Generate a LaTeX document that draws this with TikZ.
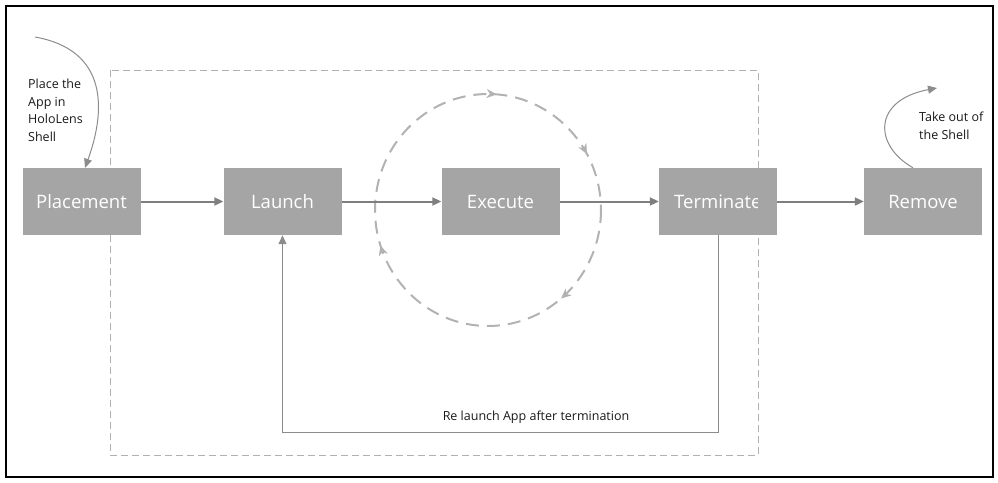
\documentclass[tikz,border=0pt]{standalone}
\usepackage{fontspec}
\setmainfont{Open Sans}
\usetikzlibrary{arrows.meta,decorations.markings}
\definecolor{boxgray}{HTML}{A5A5A5}
\definecolor{arrgray}{HTML}{7F7F7F}
\definecolor{linegray}{HTML}{8C8C8C}
\definecolor{dashgray}{HTML}{B0B0B0}
\definecolor{circgray}{HTML}{B2B2B2}

\begin{document}
\begin{tikzpicture}[x=1pt,y=-1pt,
  stagefont/.style={font=\fontsize{18.5}{21}\selectfont},
  stage/.style={fill=boxgray, draw=none, minimum width=118pt, minimum height=67pt,
    inner sep=0pt, text=white, stagefont},
  flow/.style={draw=arrgray, line width=2pt, -{Triangle[length=9pt,width=8pt]}},
  thinflow/.style={draw=linegray, line width=1pt, -{Triangle[length=9pt,width=8pt]}},
  note/.style={font=\fontsize{12.5}{17.5}\selectfont, text=black!90, inner sep=0pt, align=left},
  scope box/.style={draw=dashgray, line width=1pt, dash pattern=on 7pt off 4pt},
  cycle ring/.style={draw=circgray, line width=2pt, dash pattern=on 13pt off 8pt},
  ring tip/.style={draw=none, postaction={decorate}, decoration={markings,
    mark=at position 0.139 with {\arrow[circgray, solid]{Stealth[length=10pt,width=9pt]}},
    mark=at position 0.45 with {\arrow[circgray, solid]{Stealth[length=10pt,width=9pt]}},
    mark=at position 0.762 with {\arrow[circgray, solid]{Stealth[length=10pt,width=9pt]}},
    mark=at position 0.919 with {\arrow[circgray, solid]{Stealth[length=10pt,width=9pt]}}}}
]
\useasboundingbox (0,0) rectangle (998,482);
\draw[black, line width=2pt] (6,6) rectangle (993,477);

% application lifetime frame
\draw[scope box] (110,70) rectangle (758,455);

% execution cycle around the Execute step
\coordinate (ringc) at (488,210);
\draw[cycle ring] (ringc) ellipse [x radius=113, y radius=116];
\path[ring tip] (ringc) ellipse [x radius=113, y radius=116];

% lifecycle stages
\node[stage] (place) at (81.5,201.5) {Placement};
\node[stage] (launch) at (282.5,201.5) {Launch};
\node[stage] (exec) at (500.5,201.5) {Execute};
\node[stage] (term) at (718,201.5) {};
\begin{scope}
  \clip (659,168) rectangle (757,235);
  \node[text=white, stagefont, inner sep=0pt, anchor=west]
    (termtext) at (674,201.5) {Terminate};
\end{scope}
\node[stage] (remove) at (923,201.5) {Remove};

% main flow
\draw[flow] (place) -- (launch);
\draw[flow] (launch) -- (exec);
\draw[flow] (exec) -- (term);
\draw[flow] (term) -- (remove);

% relaunch loop
\coordinate (fbrow) at (0,432);
\draw[thinflow] (term.south) |- (fbrow -| launch.south) -- (launch.south);
\node[note, anchor=center] (fblabel) at (536,417) {Re launch App after termination};

% entering and leaving the shell
\coordinate (enter) at (35,37);
\draw[thinflow] (enter) .. controls (108,50) and (106,110) .. ([xshift=3.5pt]place.north);
\node[note, anchor=north west] (placenote) at (28,79) {Place the\\App in\\HoloLens\\Shell};

\coordinate (leave) at (937,88);
\draw[thinflow] ([xshift=-10pt]remove.north) .. controls (873,145) and (873,100) .. (leave);
\node[note, anchor=north west] (removenote) at (919,112) {Take out of\\the Shell};
\end{tikzpicture}
\end{document}
